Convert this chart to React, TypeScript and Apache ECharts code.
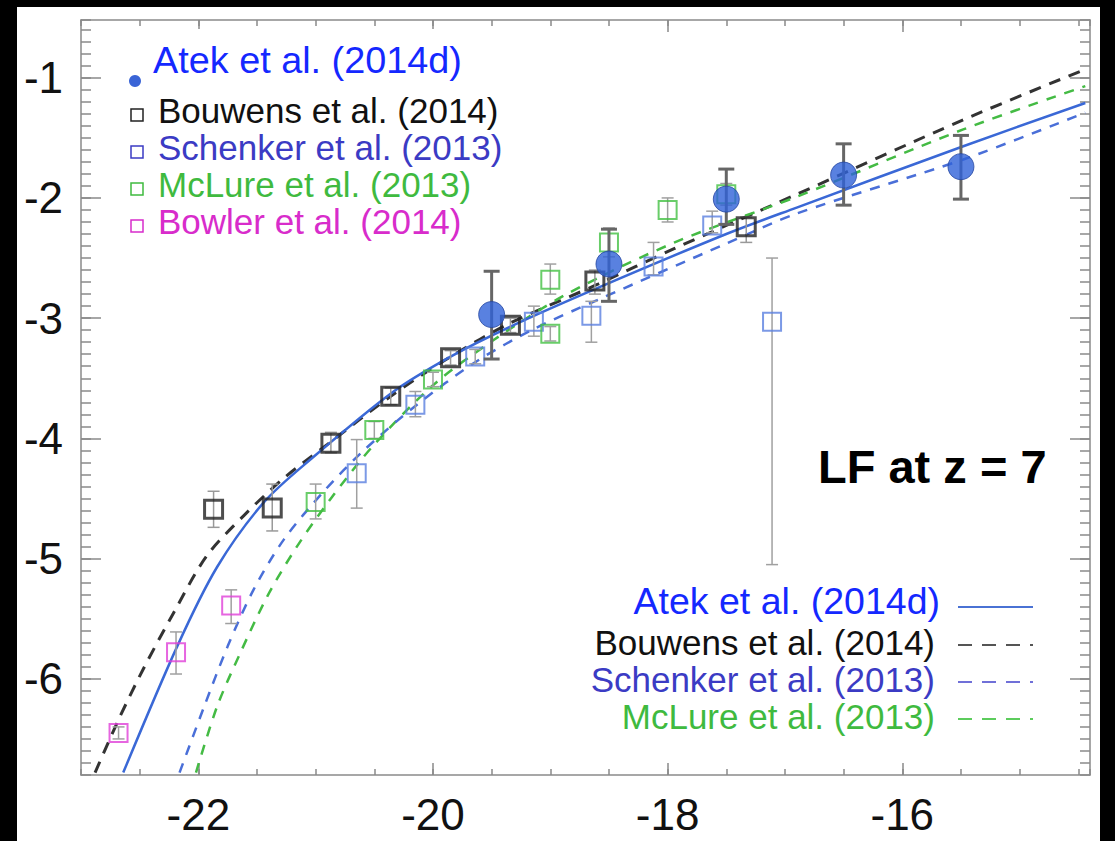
import React, { useEffect, useRef } from "react";
import * as echarts from "echarts";

const FONT = '"Liberation Sans", Arial, Helvetica, sans-serif';

// Atek et al. (2014d) binned LF (filled circles)
const atekM = [-19.5, -18.5, -17.5, -16.5, -15.5];
const atekPhi = [-2.97, -2.55, -2.01, -1.81, -1.74];
const atekHi = [-2.61, -2.26, -1.76, -1.55, -1.48];
const atekLo = [-3.34, -2.86, -2.22, -2.06, -2.01];

// Bouwens et al. (2014)
const bouwensM = [-21.87, -21.37, -20.87, -20.36, -19.85, -19.34, -18.62, -17.33];
const bouwensPhi = [-4.59, -4.58, -4.04, -3.65, -3.33, -3.06, -2.69, -2.24];
const bouwensHi = [-4.44, -4.38, -3.95, -3.58, -3.27, -3.0, -2.6, -2.16];
const bouwensLo = [-4.74, -4.77, -4.12, -3.72, -3.39, -3.12, -2.8, -2.37];

// Schenker et al. (2013)
const schenkerM = [-20.65, -20.15, -19.64, -19.14, -18.65, -18.12, -17.62, -17.11];
const schenkerPhi = [-4.29, -3.72, -3.32, -3.03, -2.98, -2.57, -2.23, -3.03];
const schenkerHi = [-4.01, -3.61, -3.26, -2.9, -2.86, -2.37, -2.11, -2.5];
const schenkerLo = [-4.58, -3.82, -3.38, -3.15, -3.2, -2.64, -2.29, -5.05];

// McLure et al. (2013)
const mclureM = [-21.0, -20.5, -20.0, -19.0, -19.0, -18.5, -18.0, -17.5];
const mclurePhi = [-4.53, -3.93, -3.51, -2.68, -3.13, -2.37, -2.1, -1.97];
const mclureHi = [-4.38, -3.86, -3.45, -2.55, -3.07, -2.25, -2.0, -1.88];
const mclureLo = [-4.67, -4.0, -3.57, -2.8, -3.19, -2.49, -2.2, -2.06];

// Bowler et al. (2014)
const bowlerM = [-22.68, -22.19, -21.72];
const bowlerPhi = [-6.45, -5.78, -5.39];
const bowlerHi = [-6.4, -5.61, -5.26];
const bowlerLo = [-6.5, -5.96, -5.54];

// Schechter fits, sampled along each curve
const atekFitM = [-22.64, -22.18, -21.84, -21.44, -21.05, -20.35, -19.85, -19.34, -18.6, -17.5, -16.9, -15.48, -14.44];
const atekFitPhi = [-6.78, -5.73, -5.07, -4.53, -4.18, -3.62, -3.32, -3.07, -2.75, -2.3, -2.08, -1.57, -1.21];

const bouwensFitM = [-22.88, -22.68, -22.47, -22.21, -21.93, -21.61, -21.27, -20.9, -20.36, -19.85, -19.34, -18.6, -17.94, -16.9, -15.48, -14.44];
const bouwensFitPhi = [-6.78, -6.34, -5.92, -5.45, -4.98, -4.64, -4.33, -4.05, -3.65, -3.32, -3.04, -2.72, -2.42, -1.97, -1.35, -0.93];

const schenkerFitM = [-22.16, -21.95, -21.75, -21.53, -21.27, -20.93, -20.59, -20.15, -19.63, -19.14, -18.6, -17.5, -16.9, -15.48, -14.44];
const schenkerFitPhi = [-6.78, -6.23, -5.73, -5.26, -4.84, -4.44, -4.1, -3.73, -3.36, -3.09, -2.85, -2.38, -2.13, -1.68, -1.29];

const mclureFitM = [-22.02, -21.84, -21.64, -21.41, -21.16, -20.87, -20.5, -19.99, -19.48, -18.86, -17.94, -16.9, -15.48, -14.44];
const mclureFitPhi = [-6.78, -6.23, -5.78, -5.31, -4.9, -4.5, -4.05, -3.55, -3.18, -2.8, -2.37, -1.99, -1.43, -1.07];

// Axis ticks
const xMajor = [-22, -20, -18, -16];
const yMajor = [-6, -5, -4, -3, -2, -1];
const X_MIN = -23;
const X_MAX = -14.4;
const Y_MIN = -6.8;
const Y_MAX = -0.52;

const AXIS_GRAY = "#8a8a8a";

const zip = (a: number[], b: number[]) => a.map((v, i) => [v, b[i]]);

function errorBars(M: number[], lo: number[], hi: number[], color: string, width: number, cap: number, z: number) {
  return {
    type: "custom",
    xAxisIndex: 0,
    yAxisIndex: 0,
    silent: true,
    z,
    data: M.map((m, i) => [m, lo[i], hi[i]]),
    renderItem: (_params: any, api: any) => {
      const x = api.value(0);
      const a = api.coord([x, api.value(1)]);
      const b = api.coord([x, api.value(2)]);
      const style = { stroke: color, lineWidth: width };
      return {
        type: "group",
        children: [
          { type: "line", shape: { x1: a[0], y1: a[1], x2: b[0], y2: b[1] }, style },
          { type: "line", shape: { x1: a[0] - cap, y1: a[1], x2: a[0] + cap, y2: a[1] }, style },
          { type: "line", shape: { x1: b[0] - cap, y1: b[1], x2: b[0] + cap, y2: b[1] }, style },
        ],
      };
    },
  };
}

function squares(M: number[], phi: number[], color: string, width: number) {
  return {
    type: "scatter",
    xAxisIndex: 0,
    yAxisIndex: 0,
    z: 4,
    symbol: "rect",
    symbolSize: 18,
    data: zip(M, phi),
    itemStyle: { color: "rgba(0,0,0,0)", borderColor: color, borderWidth: width },
  };
}

function fitLine(M: number[], phi: number[], color: string, width: number, dash: any) {
  return {
    type: "line",
    xAxisIndex: 0,
    yAxisIndex: 0,
    z: 2,
    showSymbol: false,
    symbol: "none",
    smooth: 0.3,
    data: zip(M, phi),
    lineStyle: { color, width, type: dash },
  };
}

function xAxisDef(position: string, major: boolean) {
  return {
    type: "value",
    position,
    min: X_MIN,
    max: X_MAX,
    ...(major ? {} : { interval: 0.5 }),
    axisLine: { show: major, onZero: false, lineStyle: { color: AXIS_GRAY, width: 1.5 } },
    axisTick: {
      show: true,
      inside: true,
      length: major ? 12 : 6,
      ...(major ? { customValues: xMajor } : {}),
      lineStyle: { color: AXIS_GRAY, width: 1.5 },
    },
    axisLabel:
      major && position === "bottom"
        ? { show: true, customValues: xMajor, fontSize: 44, color: "#111", fontFamily: FONT, margin: 17 }
        : { show: false },
    splitLine: { show: false },
  };
}

function yAxisDef(position: string, major: boolean) {
  return {
    type: "value",
    position,
    min: Y_MIN,
    max: Y_MAX,
    ...(major ? {} : { interval: 0.1 }),
    axisLine: { show: major, onZero: false, lineStyle: { color: AXIS_GRAY, width: 1.5 } },
    axisTick: {
      show: true,
      inside: true,
      length: major ? 20 : 10,
      ...(major ? { customValues: yMajor } : {}),
      lineStyle: { color: AXIS_GRAY, width: 1.5 },
    },
    axisLabel:
      major && position === "left"
        ? { show: true, customValues: yMajor, fontSize: 44, color: "#111", fontFamily: FONT, margin: 18 }
        : { show: false },
    splitLine: { show: false },
  };
}

const BLUE_TEXT = "#1428ff";
const SCHENKER_TEXT = "#3b3bc4";
const MCLURE_TEXT = "#3fba3f";
const BOWLER_TEXT = "#d82ccb";

function legendText(text: string, x: number, y: number, fill: string, size: number, align = "left") {
  return {
    type: "text",
    x,
    y,
    z: 20,
    style: { text, fill, fontSize: size, fontFamily: FONT, align, verticalAlign: "middle" },
  };
}

function legendSquare(cx: number, cy: number, stroke: string) {
  return {
    type: "rect",
    z: 20,
    shape: { x: cx - 6, y: cy - 6, width: 12, height: 12 },
    style: { fill: "none", stroke, lineWidth: 1.5 },
  };
}

function legendLine(y: number, stroke: string, dash: any) {
  return {
    type: "line",
    z: 20,
    shape: { x1: 958, y1: y, x2: 1033, y2: y },
    style: { stroke, lineWidth: 2, lineDash: dash },
  };
}

const graphics = [
  // upper-left key
  { type: "rect", z: 19, shape: { x: 148, y: 29, width: 318, height: 59 }, style: { fill: "#fff" } },
  { type: "circle", z: 20, shape: { cx: 135, cy: 81, r: 6 }, style: { fill: "#3a64d6" } },
  legendText("Atek et al. (2014d)", 153, 60, BLUE_TEXT, 37.8),
  legendSquare(137, 115, "#222"),
  legendText("Bouwens et al. (2014)", 158, 110, "#111", 35),
  legendSquare(137, 152, SCHENKER_TEXT),
  legendText("Schenker et al. (2013)", 158, 147, SCHENKER_TEXT, 35),
  legendSquare(137, 189, MCLURE_TEXT),
  legendText("McLure et al. (2013)", 158, 184, MCLURE_TEXT, 35),
  legendSquare(137, 226, BOWLER_TEXT),
  legendText("Bowler et al. (2014)", 158, 221, BOWLER_TEXT, 35),

  // lower-right key for the fits
  { type: "rect", z: 19, shape: { x: 628, y: 579, width: 320, height: 44 }, style: { fill: "#fff" } },
  legendText("Atek et al. (2014d)", 940, 601, BLUE_TEXT, 37.5, "right"),
  legendLine(607, "#4a72d4", null),
  legendText("Bouwens et al. (2014)", 935, 642, "#111", 35, "right"),
  legendLine(645, "#555", [14, 10]),
  legendText("Schenker et al. (2013)", 935, 679, SCHENKER_TEXT, 35, "right"),
  legendLine(682, "#7070d8", [14, 10]),
  legendText("McLure et al. (2013)", 935, 716, MCLURE_TEXT, 35, "right"),
  legendLine(719, "#5ccc5c", [14, 10]),

  {
    type: "text",
    x: 818,
    y: 466,
    z: 20,
    style: { text: "LF at z = 7", fill: "#000", fontSize: 47, fontWeight: "bold", fontFamily: FONT, verticalAlign: "middle" },
  },
];

const option = {
  animation: false,
  backgroundColor: "transparent",
  grid: { left: 81, right: 25, top: 20, bottom: 66, containLabel: false },
  xAxis: [xAxisDef("bottom", true), xAxisDef("bottom", false), xAxisDef("top", true), xAxisDef("top", false)],
  yAxis: [yAxisDef("left", true), yAxisDef("left", false), yAxisDef("right", true), yAxisDef("right", false)],
  graphic: graphics,
  series: [
    fitLine(bouwensFitM, bouwensFitPhi, "#333", 3, [12, 9]),
    fitLine(mclureFitM, mclureFitPhi, "#44bb44", 2.5, [10, 9]),
    fitLine(schenkerFitM, schenkerFitPhi, "#4a6fd8", 2.5, [10, 9]),
    fitLine(atekFitM, atekFitPhi, "#3a68d6", 2.5, "solid"),

    errorBars(bouwensM, bouwensLo, bouwensHi, "#999", 1.5, 6, 3),
    errorBars(schenkerM, schenkerLo, schenkerHi, "#a0a0a0", 1.5, 6, 3),
    errorBars(mclureM, mclureLo, mclureHi, "#a0a0a0", 1.5, 6, 3),
    errorBars(bowlerM, bowlerLo, bowlerHi, "#a0a0a0", 1.5, 6, 3),

    squares(bouwensM, bouwensPhi, "#222", 3),
    squares(schenkerM, schenkerPhi, "#5a7fe0", 2),
    squares(mclureM, mclurePhi, "#44c044", 2),
    squares(bowlerM, bowlerPhi, "#e040d8", 2),

    errorBars(atekM, atekLo, atekHi, "#666", 3, 8, 5),
    {
      type: "scatter",
      xAxisIndex: 0,
      yAxisIndex: 0,
      z: 6,
      symbol: "circle",
      symbolSize: 26,
      data: zip(atekM, atekPhi),
      itemStyle: { color: "#3062d8", borderColor: "#2446a0", borderWidth: 1 },
    },
  ],
};

export default function App() {
  const ref = useRef<HTMLDivElement>(null);
  useEffect(() => {
    if (!ref.current) return;
    const chart = echarts.init(ref.current, null, { renderer: "svg" });
    chart.setOption(option as any);
    return () => chart.dispose();
  }, []);
  return (
    <div style={{ position: "fixed", left: 0, top: 0, width: 1115, height: 841, background: "#000" }}>
      <div style={{ position: "absolute", left: 17, top: 7, width: 1083, height: 834, background: "#fff" }} />
      <div ref={ref} style={{ position: "absolute", left: 0, top: 0, width: 1115, height: 841 }} />
    </div>
  );
}
